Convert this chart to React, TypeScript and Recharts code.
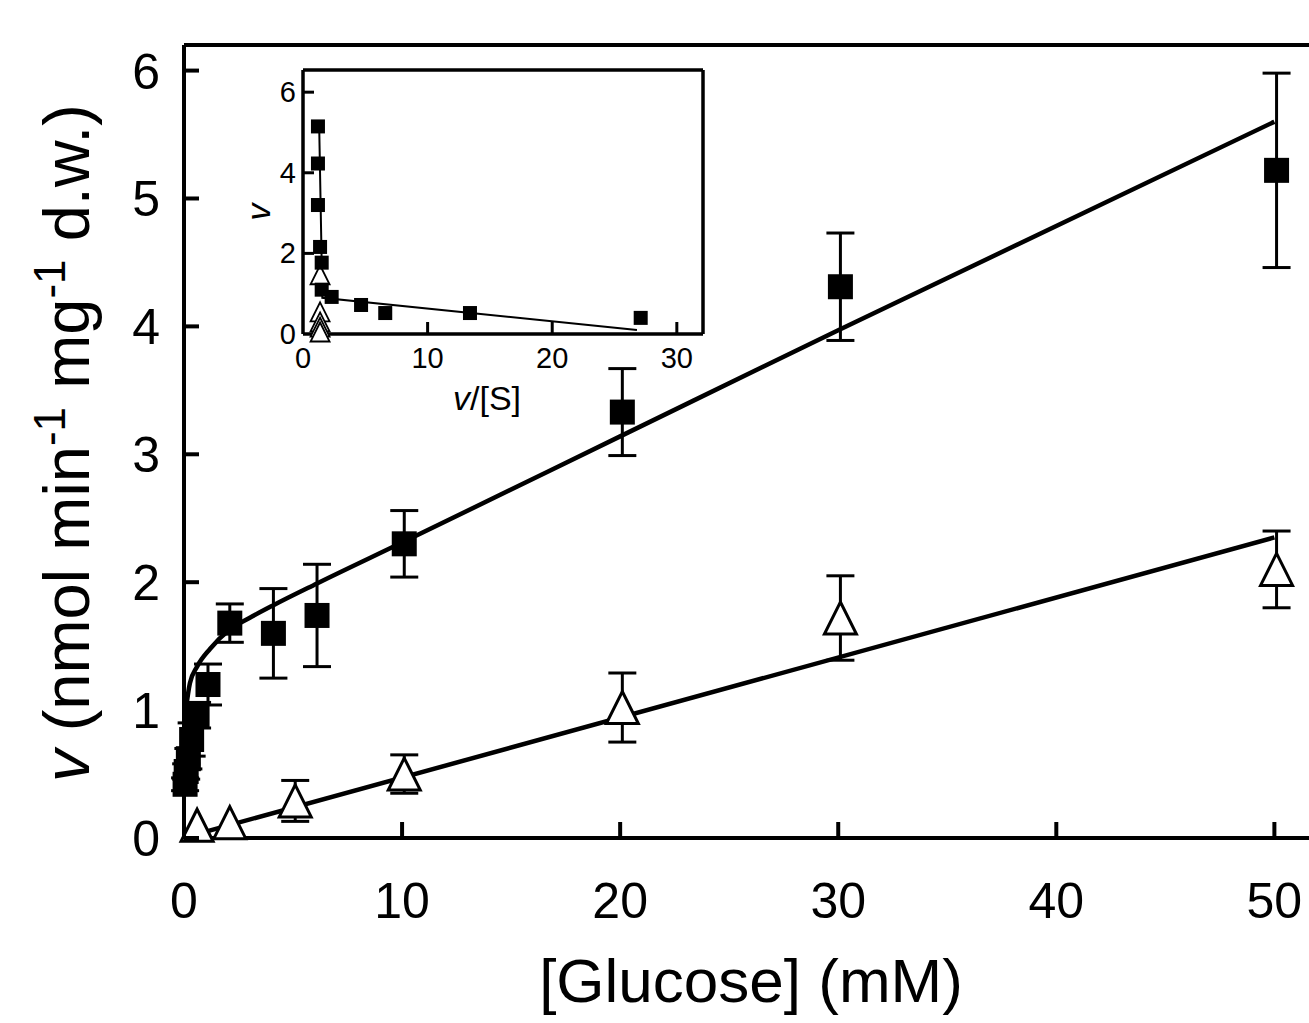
import React from 'react';
import { ScatterChart, Scatter, XAxis, YAxis, ErrorBar, ReferenceLine } from 'recharts';

// main plot: rate vs glucose concentration
const sqX = [0.05, 0.1, 0.2, 0.35, 0.6, 1.1, 2.1, 4.1, 6.1, 10.1, 20.1, 30.1, 50.1];
const sqY = [0.42, 0.52, 0.62, 0.77, 0.96, 1.2, 1.68, 1.6, 1.74, 2.3, 3.33, 4.31, 5.22];
const sqErr = [0.05, 0.06, 0.08, 0.13, 0.1, 0.16, 0.15, 0.35, 0.4, 0.26, 0.34, 0.42, 0.76];

const triX = [0.6, 2.1, 5.1, 10.1, 20.1, 30.1, 50.1];
const triY = [0.1, 0.12, 0.29, 0.5, 1.02, 1.72, 2.1];
const triErr = [0, 0, 0.16, 0.15, 0.27, 0.33, 0.3];

// fitted curves
const fitSqX = [0.08, 0.27, 0.6, 1.2, 2.1, 3, 4.1, 6.1, 10, 20, 30, 50];
const fitSqY = [1.0, 1.21, 1.34, 1.48, 1.63, 1.72, 1.82, 1.99, 2.31, 3.14, 3.97, 5.6];
const fitTriX = [1, 50];
const fitTriY = [0.05, 2.35];

const mainXTicks = [0, 10, 20, 30, 40, 50];
const mainYTicks = [0, 1, 2, 3, 4, 5, 6];

// inset: v vs v/[S]
const inSqX = [1.2, 1.2, 1.2, 1.37, 1.5, 1.5, 2.3, 4.66, 6.6, 13.4, 27.1];
const inSqY = [5.15, 4.23, 3.2, 2.16, 1.77, 1.1, 0.92, 0.72, 0.52, 0.52, 0.4];
const inTriX = [1.37, 1.37, 1.37, 1.37, 1.37];
const inTriY = [1.47, 0.55, 0.3, 0.17, 0.05];
const inFitX = [1.3, 1.55, 26.8];
const inFitY = [5.15, 0.9, 0.1];

const inXTicks = [0, 10, 20, 30];
const inYTicks = [0, 2, 4, 6];

const FONT = '"Liberation Sans", Arial, Helvetica, sans-serif';

const zip = (xs: number[], ys: number[], es?: number[]) =>
  xs.map((x, i) => ({ x, y: ys[i], err: es ? es[i] : 0 }));

const Square = (size: number) => (p: any) => (
  <rect x={p.cx - size / 2} y={p.cy - size / 2} width={size} height={size} fill="#000" />
);

const Triangle = (size: number, sw: number) => (p: any) => {
  const h = size / 2;
  return (
    <polygon
      points={`${p.cx},${p.cy - h} ${p.cx + h},${p.cy + h} ${p.cx - h},${p.cy + h}`}
      fill="#fff"
      stroke="#000"
      strokeWidth={sw}
      strokeLinejoin="miter"
    />
  );
};

const NoDot = () => <g />;

const MainXTick = ({ x, y, payload }: any) => (
  <g>
    <line x1={x} y1={y} x2={x} y2={y - 16} stroke="#000" strokeWidth={4} />
    <text x={x} y={y + 80} textAnchor="middle" fontSize={50} fontFamily={FONT} fill="#000">
      {payload.value}
    </text>
  </g>
);

const MainYTick = ({ x, y, payload }: any) => (
  <g>
    <line x1={x} y1={y} x2={x + 15} y2={y} stroke="#000" strokeWidth={4} />
    <text x={x - 24} y={y + 18} textAnchor="end" fontSize={50} fontFamily={FONT} fill="#000">
      {payload.value}
    </text>
  </g>
);

const InXTick = ({ x, y, payload }: any) => (
  <g>
    {payload.value !== 0 && <line x1={x} y1={y} x2={x} y2={y - 12} stroke="#000" strokeWidth={3} />}
    <text x={x} y={y + 34} textAnchor="middle" fontSize={29} fontFamily={FONT} fill="#000">
      {payload.value}
    </text>
  </g>
);

const InYTick = ({ x, y, payload }: any) => (
  <g>
    {payload.value !== 0 && <line x1={x} y1={y} x2={x + 11} y2={y} stroke="#000" strokeWidth={3} />}
    <text x={x - 7} y={y + 10} textAnchor="end" fontSize={29} fontFamily={FONT} fill="#000">
      {payload.value}
    </text>
  </g>
);

const MainXLabel = () => (
  <text x={751} y={1002} textAnchor="middle" fontSize={62} fontFamily={FONT} fill="#000">
    [Glucose] (mM)
  </text>
);

const MainYLabel = () => (
  <text
    x={89}
    y={443}
    transform="rotate(-90, 89, 443)"
    textAnchor="middle"
    fontSize={65}
    fontFamily={FONT}
    fill="#000"
  >
    <tspan fontStyle="italic">v</tspan>
    <tspan> (nmol min</tspan>
    <tspan dy={-24} fontSize={44}>-1</tspan>
    <tspan dy={24}> mg</tspan>
    <tspan dy={-24} fontSize={44}>-1</tspan>
    <tspan dy={24}> d.w.)</tspan>
  </text>
);

// inset label coords are relative to the inset svg (offset 230, 50)
const InXLabel = () => (
  <text x={257} y={360} textAnchor="middle" fontSize={34} fontFamily={FONT} fill="#000">
    <tspan fontStyle="italic">v</tspan>
    <tspan>/[S]</tspan>
  </text>
);

const InYLabel = () => (
  <text
    x={40}
    y={162}
    transform="rotate(-90, 40, 162)"
    textAnchor="middle"
    fontSize={34}
    fontStyle="italic"
    fontFamily={FONT}
    fill="#000"
  >
    v
  </text>
);

export default function App() {
  const squares = zip(sqX, sqY, sqErr);
  const triangles = zip(triX, triY, triErr);
  const fitSq = zip(fitSqX, fitSqY);
  const fitTri = zip(fitTriX, fitTriY);
  const inSquares = zip(inSqX, inSqY);
  const inTriangles = zip(inTriX, inTriY);
  const inFit = zip(inFitX, inFitY);

  return (
    <div style={{ position: 'absolute', left: 0, top: 0, width: 1309, height: 1023, overflow: 'hidden', background: '#fff' }}>
      <div style={{ position: 'absolute', left: 0, top: 0 }}>
        <ScatterChart width={1340} height={1023} margin={{ top: 45, right: 22, left: 84, bottom: 85 }}>
          <XAxis
            type="number"
            dataKey="x"
            domain={[0, 52]}
            ticks={mainXTicks}
            interval={0}
            height={100}
            tickSize={0}
            tickMargin={0}
            tickLine={false}
            axisLine={{ stroke: '#000', strokeWidth: 4 }}
            tick={<MainXTick />}
            label={MainXLabel}
          />
          <YAxis
            type="number"
            dataKey="y"
            domain={[0, 6.2]}
            ticks={mainYTicks}
            interval={0}
            width={100}
            tickSize={0}
            tickMargin={0}
            tickLine={false}
            axisLine={{ stroke: '#000', strokeWidth: 4 }}
            tick={<MainYTick />}
            label={MainYLabel}
          />
          <ReferenceLine y={6.2} stroke="#000" strokeWidth={4} ifOverflow="visible" />
          <Scatter data={fitSq} line={{ stroke: '#000', strokeWidth: 4.5 }} lineJointType="monotoneX" shape={NoDot} isAnimationActive={false} />
          <Scatter data={fitTri} line={{ stroke: '#000', strokeWidth: 4.5 }} shape={NoDot} isAnimationActive={false} />
          <Scatter data={squares} shape={Square(25)} isAnimationActive={false}>
            <ErrorBar dataKey="err" direction="y" width={14} stroke="#000" strokeWidth={3} isAnimationActive={false} />
          </Scatter>
          <Scatter data={triangles} shape={Triangle(32, 3)} isAnimationActive={false}>
            <ErrorBar dataKey="err" direction="y" width={14} stroke="#000" strokeWidth={3} isAnimationActive={false} />
          </Scatter>
        </ScatterChart>
      </div>

      <div style={{ position: 'absolute', left: 230, top: 50 }}>
        <ScatterChart width={500} height={400} margin={{ top: 20, right: 27, left: 33, bottom: 76 }}>
          <XAxis
            type="number"
            dataKey="x"
            domain={[0, 32.1]}
            ticks={inXTicks}
            interval={0}
            height={40}
            tickSize={0}
            tickMargin={0}
            tickLine={false}
            axisLine={{ stroke: '#000', strokeWidth: 3.5 }}
            tick={<InXTick />}
            label={InXLabel}
          />
          <YAxis
            type="number"
            dataKey="y"
            domain={[0, 6.55]}
            ticks={inYTicks}
            interval={0}
            width={40}
            tickSize={0}
            tickMargin={0}
            tickLine={false}
            axisLine={{ stroke: '#000', strokeWidth: 3.5 }}
            tick={<InYTick />}
            label={InYLabel}
          />
          <ReferenceLine y={6.55} stroke="#000" strokeWidth={3.5} ifOverflow="visible" />
          <ReferenceLine x={32.1} stroke="#000" strokeWidth={3.5} ifOverflow="visible" />
          <Scatter data={inFit} line={{ stroke: '#000', strokeWidth: 2 }} shape={NoDot} isAnimationActive={false} />
          <Scatter data={inTriangles} shape={Triangle(19, 1.8)} isAnimationActive={false} />
          <Scatter data={inSquares} shape={Square(14)} isAnimationActive={false} />
        </ScatterChart>
      </div>
    </div>
  );
}
